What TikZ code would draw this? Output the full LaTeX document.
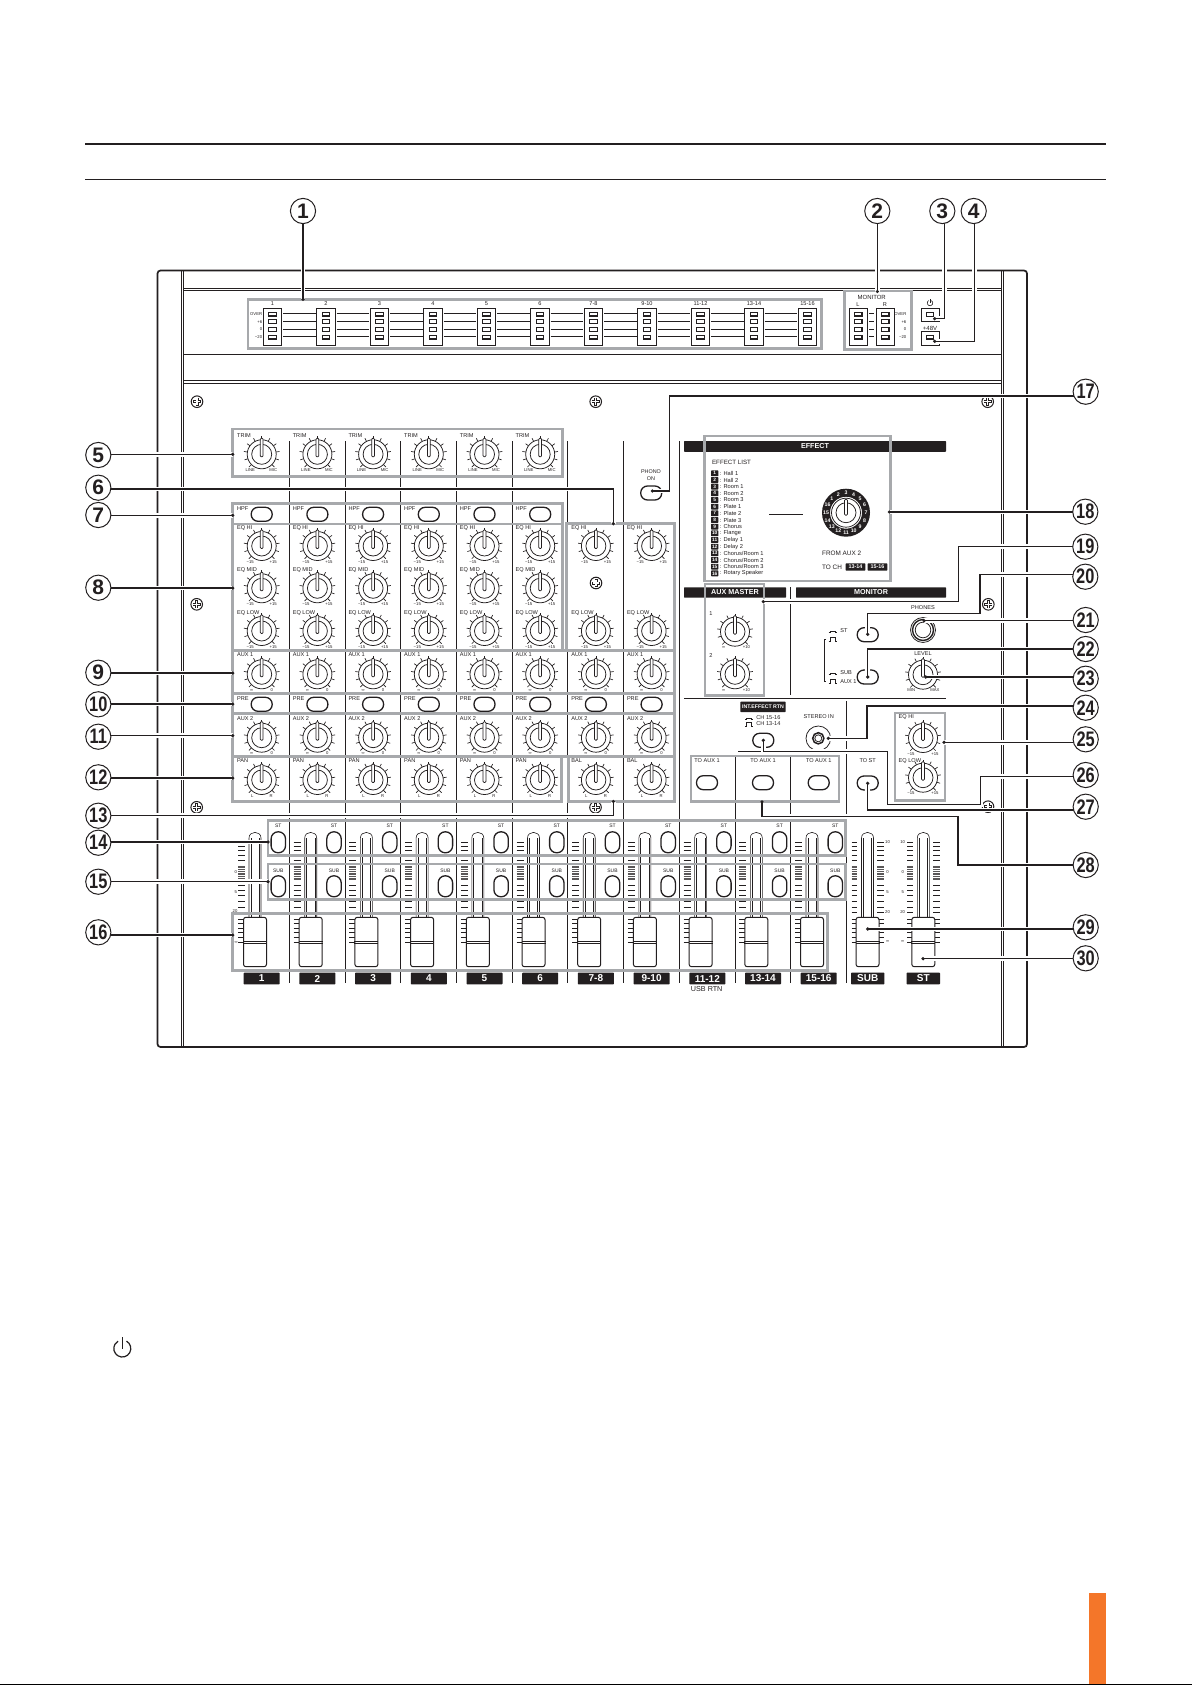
\documentclass[tikz,border=0pt]{standalone}
\usepackage{fontspec}
\setmainfont{Liberation Sans}
\usetikzlibrary{calc}
\definecolor{ink}{HTML}{231F20}
\definecolor{grayb}{HTML}{A7A9AC}
\definecolor{orangeb}{HTML}{F47629}
\newcommand\fs[1]{\fontsize{#1}{#1}\selectfont}
\newcount\tcnt
\pgfdeclarelayer{fg}
\pgfsetlayers{main,fg}
\tikzset{
  txt/.style={inner sep=0pt,text=ink,font=\fs{2.8}},
  tLeft/.style={anchor=west},
  tRight/.style={anchor=east},
  tSmall/.style={font=\fs{2.1}},
  tMid/.style={font=\fs{3.1}},
  thinl/.style={draw=ink,line width=.38pt},
  hair/.style={draw=ink,line width=.3pt},
  panel/.style={draw=ink,line width=.5pt},
  grp/.style={draw=grayb,line width=1.3pt},
  leader/.style={draw=ink,line width=.7pt,preaction={draw=white,line width=2.3pt}},
  bubble/.style={circle,draw=ink,fill=white,line width=.5pt,minimum size=12.6pt,inner sep=0pt,text=ink,font=\bfseries\fs{10.5}},
  osw/.style={draw=ink,line width=.65pt,rounded corners=3.4pt,inner sep=0pt,minimum width=10.5pt,minimum height=7pt},
  vsw/.style={draw=ink,line width=.65pt,rounded corners=3.5pt,inner sep=0pt,minimum width=7.2pt,minimum height=10.5pt},
  barb/.style={fill=ink,text=white,inner sep=0pt,rounded corners=.3pt,font=\bfseries\fs{3.6}},
  chanb/.style={barb,minimum width=18pt,minimum height=5.8pt,font=\bfseries\fs{5}},
  numb/.style={barb,minimum width=3.7pt,minimum height=2.9pt,font=\bfseries\fs{2.4}},
  tob/.style={barb,minimum width=9.8pt,minimum height=3.7pt,font=\bfseries\fs{2.7}},
}
\newcommand\lab[4][]{\global\advance\tcnt by 1\relax\node[txt,#1] (t\the\tcnt) at (#2,#3) {#4};}
\newcommand\knobbody[3]{%
  \begin{scope}[shift={(#1,#2)}]
    \draw[thinl,fill=white] (0,0) circle[radius=14.5];
    \draw[thinl] (0,0) circle[radius=10];
    \draw[thinl,fill=white,rounded corners=.5pt] (-1.4,2.5) -- (-1.4,-#3) -- (1.4,-#3) -- (1.4,2.5) -- cycle;
  \end{scope}}
\newcommand\knob[5]{%
  \begin{scope}[shift={(#1,#2)}]
    \foreach \a in {-225,-198,...,45}{\draw[thinl,line width=.33pt] (\a:14.5) -- (\a:18);}
  \end{scope}
  \knobbody{#1}{#2}{16}
  \lab[tSmall]{#1-#5}{#2+15.8}{#3}
  \lab[tSmall]{#1+#5}{#2+15.8}{#4}}
\newcommand\screw[2]{%
  \begin{scope}[shift={(#1,#2)}]
    \draw[panel] (0,0) circle[radius=5.8];
    \draw[draw=ink,line width=1.5pt] (-4,0) -- (4,0) (0,-4) -- (0,4);
    \draw[draw=white,line width=.6pt] (-3.4,0) -- (3.4,0) (0,-3.4) -- (0,3.4);
  \end{scope}}
\newcommand\track[1]{%
  \draw[hair] (#1-6,917) -- (#1-6,838) .. controls (#1-6,830.5) and (#1+6,830.5) .. (#1+6,838) -- (#1+6,917);
  \draw[hair] (#1-4.2,917) -- (#1-4.2,838) (#1+4.2,838) -- (#1+4.2,917);}
\newcommand\ticks[3]{% centre, from, to (offsets)
  \foreach \ty in {842,846.3,850.7,855.5,860,885,890,895,901,907,912,919,923.5,928,932.5,937,942}{\draw[thinl] (#1+#2,\ty) -- (#1+#3,\ty);}
  \foreach \ty in {866,867.7,...,880.5}{\draw[draw=ink!75,line width=.22pt] (#1+#2,\ty) -- (#1+#3,\ty);}}
\newcommand\faderknob[1]{%
  \draw[panel,fill=white,rounded corners=1.2pt] (#1-11.5,917.3) rectangle (#1+11.5,966.7);
  \draw[panel] (#1-12,941) -- (#1+12,941) (#1-12,943) -- (#1+12,943);}
\newcommand\meter[1]{%
  \draw[panel] (#1-9.2,308.3) rectangle (#1+9.2,345);
  \foreach \ly in {314,321.7,329.3,337}{\draw[panel,line width=.6pt] (#1-3.7,\ly-1.9) rectangle (#1+3.7,\ly+1.9);}}
\newcommand\iconlow[2]{\draw[thinl,line width=.35pt,shift={(#1,#2)}] (-4,2) -- (-2.5,2) -- (-2.5,1) -- (2.5,1) -- (2.5,2) -- (4,2);}
\newcommand\iconhigh[2]{\draw[thinl,line width=.35pt,shift={(#1,#2)}] (-4,2) -- (-2.5,2) -- (-2.5,-2) -- (2.5,-2) -- (2.5,2) -- (4,2);}
\newcommand\powermark[4]{%
  \begin{scope}[shift={(#1,#2)}]
    \draw[draw=ink,line width=#4] (-60:#3) arc[start angle=-60,end angle=240,radius=#3];
    \draw[draw=ink,line width=#4] (0,-#3*1.35) -- (0,0);
  \end{scope}}
\newcommand\bub[3]{\node[bubble] (b#1) at (#2,#3) {\ifnum#1>9 \scalebox{.78}[1]{#1}\else #1\fi};}
\newcommand\dotat[1]{\fill[ink] (#1) circle[radius=1.8];}
\begin{document}
\begin{tikzpicture}[x=0.5pt,y=-0.5pt]
\useasboundingbox (0,0) rectangle (1192,1685);
\fill[white] (0,0) rectangle (1192,1685);
% page furniture
\draw[draw=ink,line width=1.1pt] (85,144) -- (1106,144);
\draw[draw=ink,line width=.5pt] (85,179.5) -- (1106,179.5);
\fill[orangeb] (1089,1592.7) rectangle (1106,1684);
\draw[draw=black,line width=.5pt] (0,1684.5) -- (1192,1684.5);
\powermark{122.3}{1348.5}{8.5}{.6pt}
% chassis
\draw[draw=ink,line width=.85pt,rounded corners=1.5pt] (157.5,270.5) rectangle (1027,1047);
\draw[thinl] (181.7,270.5) -- (181.7,1047) (183.3,270.5) -- (183.3,1047) (1001.7,270.5) -- (1001.7,1047) (1003.3,270.5) -- (1003.3,1047);
\draw[thinl] (183.3,288) -- (1001.7,288) (183.3,290) -- (1001.7,290) (183.3,354.3) -- (1001.7,354.3) (183.3,380.7) -- (1001.7,380.7) (183.3,383) -- (1001.7,383);
% panel lines
\foreach \vx in {289.3,345.3,400.3,456.3,512.3,567.3,623.3,679.3}{\draw[panel] (\vx,441) -- (\vx,983);}
\draw[panel] (735.3,755) -- (735.3,983) (790.3,587) -- (790.3,694.7) (790.3,756) -- (790.3,983) (846.3,701) -- (846.3,983);
\draw[panel] (684,698) -- (946,698);
\draw[panel] (738,751.3) -- (765,751.3);
\draw[panel] (769.3,514.3) -- (802.7,514.3);
% meters
\foreach \c/\s in {272.5/1,326/2,379.5/3,433/4,486.5/5,540/6,593.5/7-8,647/9-10,700.5/11-12,754/13-14,807.5/15-16}{%
  \meter{\c}\lab{\c}{304}{\s}}
\foreach \ax/\bx in {272.5/326,326/379.5,379.5/433,433/486.5,486.5/540,540/593.5,593.5/647,647/700.5,700.5/754,754/807.5}{%
  \foreach \ly in {313.7,321.3,329,336.7}{\draw[thinl] (\ax+10.5,\ly) -- (\bx-10.5,\ly);}}
\lab[tSmall,tRight]{262.5}{314}{OVER}\lab[tSmall,tRight]{262.5}{322}{+6}\lab[tSmall,tRight]{262.5}{329.5}{0}\lab[tSmall,tRight]{262.5}{337}{−20}
\meter{858.3}\meter{885.3}
\foreach \ly in {313.7,321.3,329,336.7}{\draw[thinl] (869.3,\ly) -- (874.3,\ly);}
\lab[font=\fs{3}]{871.7}{297.3}{MONITOR}\lab{858}{304.7}{L}\lab{885}{304.7}{R}
\lab[tSmall,tRight]{906.7}{314}{OVER}\lab[tSmall,tRight]{906.7}{322}{+6}\lab[tSmall,tRight]{906.7}{329.5}{0}\lab[tSmall,tRight]{906.7}{337}{−20}
\draw[panel] (921,308.7) rectangle (939,321.7) (921,331.3) rectangle (939,345);
\draw[panel,line width=.6pt] (926.3,312.8) rectangle (933.7,316.6) (926.3,335.1) rectangle (933.7,338.9);
\powermark{930}{303}{2.8}{.3pt}
\lab[font=\fs{3}]{930}{328}{+48V}
% screws
\screw{197}{401.7}\screw{595.7}{401.7}\screw{987.7}{401.7}\screw{196.7}{604.3}\screw{196.7}{807.3}\screw{595.5}{807.3}\screw{988.3}{604.3}\screw{988}{806.7}\screw{596}{583}
% channel strips
\foreach \i in {0,...,5}{%
  \pgfmathsetmacro\kx{261.7+55.7*\i}\pgfmathsetmacro\lx{\kx-25}
  \lab[tLeft]{\lx}{435.3}{TRIM}\knob{\kx}{454.3}{LINE}{MIC}{11.5}
  \lab[tLeft]{\lx}{508.3}{HPF}\node[osw] (hpf\i) at (\kx,514.3) {};
  \lab[tLeft]{\lx}{570.3}{EQ MID}\knob{\kx}{588.3}{−15}{+15}{11.5}
  \lab[tLeft]{\lx}{760.7}{PAN}\knob{\kx}{780}{L}{R}{9.5}
}
\foreach \i in {0,...,7}{%
  \pgfmathsetmacro\kx{261.7+55.7*\i}\pgfmathsetmacro\lx{\kx-25}
  \lab[tLeft]{\lx}{527.7}{EQ HI}\knob{\kx}{546}{−15}{+15}{11.5}
  \lab[tLeft]{\lx}{612.7}{EQ LOW}\knob{\kx}{631}{−15}{+15}{11.5}
  \lab[tLeft]{\lx}{655}{AUX 1}\knob{\kx}{674.3}{∞}{0}{10}
  \lab[tLeft]{\lx}{699}{PRE}\node[osw] (pre\i) at (\kx,704.3) {};
  \lab[tLeft]{\lx}{718.3}{AUX 2}\knob{\kx}{737.7}{∞}{0}{10}
}
\foreach \i in {6,7}{%
  \pgfmathsetmacro\kx{261.7+55.7*\i}\pgfmathsetmacro\lx{\kx-25}
  \lab[tLeft]{\lx}{760.7}{BAL}\knob{\kx}{780}{L}{R}{9.5}
}
% faders
\foreach \i/\s in {0/1,1/2,2/3,3/4,4/5,5/6,6/7-8,7/9-10,8/11-12,9/13-14,10/15-16}{%
  \pgfmathsetmacro\fx{255+55.7*\i}\pgfmathsetmacro\ox{278.3+55.7*\i}\pgfmathsetmacro\bx{261.7+55.7*\i}
  \ticks{\fx}{-17}{-10}
  \track{\fx}
  \faderknob{\fx}
  \lab[tSmall,font=\fs{2.5}]{\ox}{826}{ST}\node[vsw] (st\i) at (\ox,842.3) {};
  \lab[tSmall,font=\fs{2.5}]{\ox}{870.7}{SUB}\node[vsw] (sub\i) at (\ox,886.3) {};
  \node[chanb] (ch\i) at (\bx,978.5) {\s};
}
\lab[tSmall]{235.7}{872}{0}\lab[tSmall]{235.7}{891.7}{5}\lab[tSmall]{235}{910.7}{20}\lab[tSmall]{236}{942}{∞}
\lab[font=\fs{3.6}]{706.7}{989}{USB RTN}
\ticks{867.5}{-16}{-11}\ticks{867.5}{9.5}{16.5}\track{867.5}\faderknob{867.5}
\ticks{923.3}{-16}{-10.6}\ticks{923.3}{10}{16.7}\track{923.3}\faderknob{923.3}
\foreach \ty/\s in {841.7/10,871.7/0,891.7/5,911.7/20,941.7/∞}{\lab[tSmall]{887.5}{\ty}{\s}\lab[tSmall]{902.7}{\ty}{\s}}
\node[chanb,minimum width=16.7pt] (chsub) at (867.7,978.5) {SUB};
\node[chanb,minimum width=16.7pt] (chst) at (923.3,978.5) {ST};
% phono
\lab[font=\fs{2.7}]{651}{472}{PHONO}\lab[font=\fs{2.7}]{651}{478.7}{ON}
\node[osw] (phono) at (651.2,493) {};
% effect
\node[barb,minimum width=131pt,minimum height=5.35pt] (effbar) at (815,446.4) {EFFECT};
\lab[tLeft,tMid]{711.7}{462.3}{EFFECT LIST}
\foreach \n/\nm in {1/Hall 1,2/Hall 2,3/Room 1,4/Room 2,5/Room 3,6/Plate 1,7/Plate 2,8/Plate 3,9/Chorus,10/Flange,11/Delay 1,12/Delay 2,13/{Chorus/Room 1},14/{Chorus/Room 2},15/{Chorus/Room 3},16/Rotary Speaker}{%
  \pgfmathsetmacro\ry{473.3+(\n-1)*6.67}
  \node[numb] (e\n) at (714.7,\ry) {\n};
  \lab[tLeft,font=\fs{2.85}]{719.5}{\ry}{: \nm}
}
\fill[ink,even odd rule] (846,512.7) circle[radius=24] circle[radius=16];
\foreach \n in {1,...,16}{%
  \pgfmathsetmacro\da{-90+(\n-3)*22.5}
  \node[inner sep=0pt,text=white,font=\bfseries\fs{2.6}] (dial\n) at ($(846,512.7)+(\da:20)$) {\n};
}
\knobbody{846}{512.7}{13.5}
\lab[tLeft,font=\fs{3.2}]{821.7}{553.7}{FROM AUX 2}
\lab[tLeft,font=\fs{3.2}]{821.7}{567}{TO CH}
\node[tob] (to1) at (855.5,567) {13-14};
\node[tob] (to2) at (877.5,567) {15-16};
% aux master
\node[barb,minimum width=51pt,minimum height=5.2pt] (auxbar) at (735,592.5) {AUX MASTER};
\lab{711}{613.3}{1}\lab{711}{656}{2}
\knob{735}{631.7}{∞}{+10}{11.5}\knob{735}{674.3}{∞}{+10}{11.5}
% monitor
\node[barb,minimum width=75pt,minimum height=5.2pt] (monbar) at (871,592.5) {MONITOR};
\node[osw] (swst) at (867.7,634.7) {};
\node[osw] (swsub) at (867.7,677) {};
\iconlow{832.7}{630.7}\iconhigh{832.7}{639}\iconlow{832.7}{672.7}\iconhigh{832.7}{681.7}
\lab[tLeft]{840}{630.7}{ST}\lab[tLeft]{840}{672.7}{SUB}\lab[tLeft]{840}{681.7}{AUX 1}
\draw[thinl] (826,639) -- (824.3,639) -- (824.3,681) -- (826,681);
\lab{923}{607.7}{PHONES}
\draw[thinl] (923,630) circle[radius=12.5];
\draw[draw=ink,line width=.7pt] (923,630) circle[radius=10.5];
\draw[thinl] (923,630) circle[radius=7.8];
\lab{923}{653.7}{LEVEL}
\knob{923}{674.7}{MIN}{MAX}{11.8}
% int effect
\node[barb,minimum width=22.7pt,minimum height=5.2pt,font=\bfseries\fs{2.6}] (intbar) at (763,706.9) {INT.EFFECT RTN};
\iconlow{749.3}{717.3}\iconhigh{749.3}{724}
\lab[tLeft]{756}{717.3}{CH 15-16}\lab[tLeft]{756}{724}{CH 13-14}
\node[osw] (swint) at (763.3,740.3) {};
\lab{818.7}{717}{STEREO IN}
\draw[thinl] (818.3,738.3) circle[radius=12.3];
\draw[draw=ink,line width=.75pt] (818.3,738.3) circle[radius=5.6];
\draw[thinl] (818.3,738.3) circle[radius=3.5];
\foreach \ox/\nm in {707/a,763/b,818.7/c}{\lab{\ox}{761}{TO AUX 1}\node[osw] (to\nm) at (\ox,782.7) {};}
\lab{867.7}{761}{TO ST}\node[osw] (tost) at (867.7,783) {};
\lab[tLeft]{898.3}{717}{EQ HI}\knob{923}{738}{−15}{+15}{12}
\lab[tLeft]{898.3}{760.7}{EQ LOW}\knob{923}{777.7}{−15}{+15}{12}
% grey groups
\draw[grp] (248,299.3) rectangle (821.7,348.7);
\draw[grp] (844.7,291) rectangle (911.3,349.7);
\draw[grp] (232.7,429) rectangle (562.3,476.7);
\draw[grp] (232.7,503.3) rectangle (562.3,524);
\draw[grp] (232.7,524) rectangle (562.3,650.7);
\draw[grp] (566.7,523.7) rectangle (674.3,650.7);
\draw[grp] (232.7,650.7) rectangle (674.3,693.3);
\draw[grp] (232.7,693.3) rectangle (674.3,713.7);
\draw[grp] (232.7,713.7) rectangle (674.3,756.3);
\draw[grp] (232.7,756.3) rectangle (561.7,801.7);
\draw[grp] (568.3,756.3) rectangle (674.3,801.7);
\draw[grp] (268,820.3) rectangle (845.7,855.3);
\draw[grp] (268,864) rectangle (845.7,899.3);
\draw[grp] (232.7,913.3) rectangle (827.7,970.7);
\draw[grp] (704.7,436) rectangle (890.7,581);
\draw[grp] (705,584) rectangle (764,695.7);
\draw[grp] (895,713) rectangle (945,800.7);
\draw[grp] (691,756) rectangle (839,801.3);
% bubbles
\begin{pgfonlayer}{fg}
\bub{1}{303}{211}\bub{2}{877.3}{211}\bub{3}{942.3}{211}\bub{4}{973.7}{211}
\bub{5}{98.3}{455}\bub{6}{98.3}{487.7}\bub{7}{98.3}{515}\bub{8}{98.3}{587.7}\bub{9}{98.3}{672.7}
\bub{10}{98.3}{704.3}\bub{11}{98.3}{736.7}\bub{12}{98.3}{777.3}\bub{13}{98.3}{815.7}\bub{14}{98.3}{842.7}\bub{15}{98.3}{881.7}\bub{16}{98.3}{932.3}
\bub{17}{1085.7}{391.7}\bub{18}{1085.3}{511.7}\bub{19}{1085.3}{546.7}\bub{20}{1085.3}{576.7}\bub{21}{1085.7}{620}\bub{22}{1085.7}{649}\bub{23}{1085.7}{678.7}
\bub{24}{1085.7}{707.7}\bub{25}{1085.7}{739.3}\bub{26}{1085.7}{775}\bub{27}{1085.7}{806.7}\bub{28}{1085.7}{865}\bub{29}{1085.7}{927.3}\bub{30}{1085.7}{958.3}
\end{pgfonlayer}
% leader end points
\coordinate (d1) at (303,299.3);
\coordinate (d2) at (877.3,291.5);
\coordinate (k3) at (944.3,318.7);\coordinate (d3) at (934.7,318.7);
\coordinate (k4) at (974.3,341.3);\coordinate (d4) at (934.7,341.3);
\coordinate (d5) at (232.7,454.3);
\coordinate (k6) at (613.3,489);\coordinate (d6) at (613.3,523.7);
\coordinate (d7) at (232.7,515.3);
\coordinate (d8) at (232.7,588);
\coordinate (d9) at (232.7,673);
\coordinate (d10) at (232.7,704);
\coordinate (d11) at (232.7,735.7);
\coordinate (d12) at (232.7,778);
\coordinate (k13) at (613.3,815.5);\coordinate (d13) at (613.3,801.5);
\coordinate (d14) at (268,842);
\coordinate (d15) at (268,881.7);
\coordinate (d16) at (232.7,935);
\coordinate (k17a) at (669.3,396);\coordinate (k17b) at (669.3,491);\coordinate (d17) at (652.3,491);
\coordinate (d18) at (889.3,512);
\coordinate (k19a) at (958.3,546.7);\coordinate (k19b) at (958.3,601.7);\coordinate (d19) at (763.3,601.7);
\coordinate (k20a) at (980,574.7);\coordinate (k20b) at (980,613.3);\coordinate (k20c) at (867.7,613.3);\coordinate (d20) at (867.7,634.3);
\coordinate (d21) at (924,620.7);
\coordinate (k22) at (867.7,649);\coordinate (d22) at (867.7,677);
\coordinate (d23) at (925.7,677);
\coordinate (k24a) at (867,706);\coordinate (k24b) at (867,738.3);\coordinate (d24) at (828.3,738.3);
\coordinate (d25) at (944,742.3);
\coordinate (k26a) at (980.3,776.7);\coordinate (k26b) at (980.3,804.3);\coordinate (k26c) at (887.7,804.3);\coordinate (k26d) at (887.7,751.7);\coordinate (k26e) at (763.3,751.7);\coordinate (d26) at (763.3,740.3);
\coordinate (k27) at (867.7,810);\coordinate (d27) at (867.7,783.3);
\coordinate (k28a) at (958,865);\coordinate (k28b) at (958,816.3);\coordinate (k28c) at (762,816.3);\coordinate (d28) at (762,802);
\coordinate (d29) at (867.7,929);
\coordinate (d30) at (923,958.7);
% leaders
\draw[leader] (b1) -- (d1);
\draw[leader] (b2) -- (d2);
\draw[leader] (b3 -| k3) -- (k3) -- (d3);
\draw[leader] (b4 -| k4) -- (k4) -- (d4);
\foreach \n in {5,7,8,9,10,11,12,14,15,16}{\draw[leader] (b\n |- d\n) -- (d\n);}
\draw[leader] (b6 |- k6) -- (k6) -- (d6);
\draw[leader] (b13 |- k13) -- (k13) -- (d13);
\draw[leader] (b17 |- k17a) -- (k17a) -- (k17b) -- (d17);
\draw[leader] (b18 |- d18) -- (d18);
\draw[leader] (b19 |- k19a) -- (k19a) -- (k19b) -- (d19);
\draw[leader] (b20 |- k20a) -- (k20a) -- (k20b) -- (k20c) -- (d20);
\draw[leader] (b21 |- d21) -- (d21);
\draw[leader] (b22 |- k22) -- (k22) -- (d22);
\draw[leader] (b23 |- d23) -- (d23);
\draw[leader] (b24 |- k24a) -- (k24a) -- (k24b) -- (d24);
\draw[leader] (b25 |- d25) -- (d25);
\draw[leader] (b26 |- k26a) -- (k26a) -- (k26b) -- (k26c) -- (k26d) -- (k26e) -- (d26);
\draw[leader] (b27 |- k27) -- (k27) -- (d27);
\draw[leader] (b28 |- k28a) -- (k28a) -- (k28b) -- (k28c) -- (d28);
\draw[leader] (b29 |- d29) -- (d29);
\draw[leader] (b30 |- d30) -- (d30);
\foreach \n in {1,...,30}{\dotat{d\n}}
\end{tikzpicture}
\end{document}
